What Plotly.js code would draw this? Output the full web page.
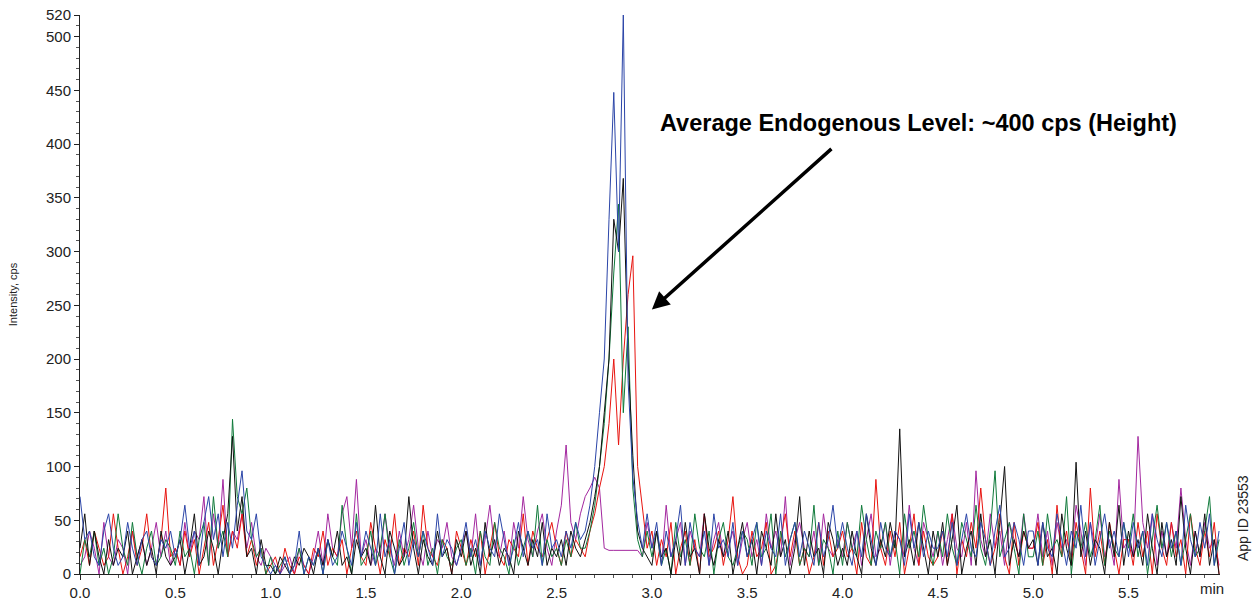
<!DOCTYPE html>
<html>
<head>
<meta charset="utf-8">
<script src="https://cdn.plot.ly/plotly-3.0.1.min.js"></script>
<style>body{margin:0;background:#fff}</style>
</head>
<body>
<div id="my_plot" style="width:1256px;height:601px"></div>
<script>
// sampling step 0.025 min, 240 points per trace (0.0 .. 5.975)
var step = 0.025;
var times = [];
for (var i = 0; i < 240; i++) times.push(+(i * step).toFixed(3));

var black = [
 24,56,8,40,16,0,32,8,24,16,40,0,16,32,8,24,0,40,16,8,
 16,32,0,24,56,8,16,40,24,0,32,56,128,40,72,16,24,0,32,8,
 8,0,16,8,0,16,8,24,16,0,24,8,32,16,40,8,16,0,32,16,
 24,8,64,16,0,40,24,8,16,72,24,0,32,16,8,40,16,24,0,32,
 16,40,8,24,0,48,16,32,8,24,16,0,40,24,8,32,16,48,8,24,
 16,32,8,40,24,16,32,48,72,100,150,200,330,300,368,200,110,40,24,16,
 8,40,16,24,0,32,8,48,16,24,0,56,24,8,32,16,40,0,24,48,
 16,32,0,40,24,8,56,16,32,0,24,72,8,40,16,24,0,48,32,8,
 24,8,40,16,0,56,24,8,32,16,48,24,135,16,32,8,48,24,0,40,
 16,48,8,32,64,0,24,40,8,56,16,32,0,48,100,8,32,16,40,24,
 32,8,48,16,24,0,56,24,8,104,16,40,8,32,24,0,48,16,64,8,
 40,16,32,8,56,24,0,48,16,32,8,72,24,0,40,16,56,8,32,0];
var red = [
 16,32,8,40,24,8,16,56,24,0,16,40,8,24,56,16,8,32,80,16,
 24,8,40,16,32,0,24,48,8,32,64,16,40,24,56,16,32,8,24,0,
 8,16,0,24,8,0,16,8,0,24,16,40,8,24,16,32,0,24,40,16,
 8,48,24,0,32,16,56,8,24,16,40,8,64,24,16,8,32,24,0,40,
 24,8,32,16,40,0,24,48,16,8,32,24,16,56,8,40,24,16,32,48,
 24,8,40,16,32,24,16,40,56,80,100,140,200,120,200,260,296,100,60,24,
 40,8,32,16,48,0,24,40,8,32,0,56,16,24,40,8,32,72,16,0,
 8,40,16,24,48,0,8,32,56,16,40,8,24,0,16,48,8,40,16,24,
 40,16,24,0,48,16,8,88,24,8,40,16,48,0,24,56,8,40,16,8,
 16,40,8,56,0,32,16,48,24,80,32,8,24,56,16,0,48,8,40,24,
 24,48,8,32,0,64,16,40,8,48,24,0,80,16,40,8,48,24,0,32,
 32,8,48,16,40,0,56,24,8,48,16,32,0,56,24,8,40,16,48,0];
var green = [
 0,32,16,40,8,24,0,16,56,24,8,48,16,0,24,40,8,16,32,24,
 8,40,16,24,0,32,48,8,72,24,40,16,144,72,56,80,32,16,24,0,
 16,0,8,16,0,8,24,0,16,8,24,0,32,16,8,64,24,0,56,8,
 16,40,8,24,56,16,0,32,8,24,48,16,40,8,24,0,32,16,8,24,
 32,8,24,0,40,16,8,48,24,16,0,32,8,24,40,16,64,8,32,16,
 24,8,32,16,48,24,24,40,64,100,140,200,280,344,150,230,80,32,16,40,
 16,40,8,24,0,48,16,32,8,56,24,16,40,0,32,48,16,8,24,40,
 32,8,48,16,24,56,0,40,16,32,48,8,24,16,64,8,32,24,0,40,
 8,48,24,16,64,32,8,40,24,48,16,32,0,56,24,40,16,64,32,8,
 40,16,56,24,8,48,32,16,64,24,8,40,96,16,32,48,24,0,56,16,
 16,40,8,56,24,32,16,72,0,40,24,48,16,32,64,8,40,24,16,48,
 24,56,16,40,0,32,64,24,48,16,40,8,32,56,16,24,40,72,8,32];
var blue = [
 72,32,40,16,8,40,56,24,8,16,48,24,8,32,40,16,8,32,24,40,
 16,32,64,24,40,8,48,72,32,56,16,48,24,64,96,40,32,56,16,8,
 0,8,0,16,0,8,40,0,16,8,24,0,32,8,16,40,24,8,48,16,
 40,24,8,56,16,32,0,24,48,8,32,16,40,24,8,56,16,32,24,8,
 24,48,16,32,8,40,24,16,56,32,8,24,48,16,40,24,32,8,56,24,
 32,16,40,24,48,32,40,64,100,150,200,330,448,300,520,180,90,50,24,56,
 24,48,8,40,16,32,64,8,48,24,16,40,8,56,24,32,16,48,8,40,
 16,32,48,8,40,24,16,56,8,32,48,16,40,24,8,48,16,32,64,24,
 48,24,8,40,16,56,32,8,48,24,16,40,32,8,56,24,48,16,40,24,
 24,40,16,48,8,32,56,24,16,48,32,8,40,64,16,24,48,32,8,40,
 40,8,48,24,16,56,32,8,40,24,64,16,48,8,32,56,24,40,16,48,
 16,48,24,40,8,56,32,16,48,24,40,8,64,32,16,48,24,56,8,40];
var magenta = [
 8,16,40,24,0,48,16,8,32,24,0,40,16,32,8,24,48,16,40,8,
 24,8,48,16,40,32,72,8,56,24,88,16,40,32,56,24,48,16,8,24,
 16,8,0,8,16,0,24,8,0,16,40,8,56,24,16,56,72,24,88,16,
 32,8,24,16,56,24,8,40,16,32,64,24,8,40,16,32,24,48,16,8,
 24,40,16,56,8,32,64,24,16,40,8,48,24,72,32,16,40,56,24,8,
 40,64,120,48,32,56,72,80,90,80,24,22,22,22,22,22,22,22,16,48,
 24,40,8,64,16,32,48,8,40,24,16,56,8,32,48,16,24,40,8,32,
 48,16,32,8,56,24,40,16,72,8,32,48,24,16,40,8,56,24,16,32,
 16,48,24,40,8,32,56,16,24,48,8,40,32,16,64,24,8,48,32,16,
 40,8,32,56,24,16,48,8,96,32,16,56,24,40,8,48,32,16,56,24,
 24,56,16,40,8,48,24,32,16,64,40,8,48,24,56,16,32,8,88,24,
 32,16,128,48,24,56,8,40,16,48,24,80,32,8,40,16,48,24,32,8];

var xtickvals = [0, 0.5, 1, 1.5, 2, 2.5, 3, 3.5, 4, 4.5, 5, 5.5];
var xticktext = ["0.0","0.5","1.0","1.5","2.0","2.5","3.0","3.5","4.0","4.5","5.0","5.5"];
var ytickvals = [0, 50, 100, 150, 200, 250, 300, 350, 400, 450, 500, 520];

var series = [
  {y: magenta, color: "#a3279f"},
  {y: red, color: "#e8140f"},
  {y: green, color: "#0f7a3a"},
  {y: black, color: "#111111"},
  {y: blue, color: "#2b45a8"}
];
var data = series.map(function (s) {
  return {x: times, y: s.y, type: "scatter", mode: "lines",
          line: {color: s.color, width: 1}, hoverinfo: "skip"};
});

var layout = {
  width: 1256, height: 601,
  margin: {l: 80, r: 36, t: 15, b: 27},
  showlegend: false,
  paper_bgcolor: "#fff", plot_bgcolor: "#fff",
  font: {family: "Liberation Sans, Arial, sans-serif", size: 15, color: "#222"},
  xaxis: {
    range: [0, 5.98], showgrid: false, zeroline: false,
    showline: true, linecolor: "#222", linewidth: 1,
    ticks: "outside", ticklen: 5, tickcolor: "#222",
    tickvals: xtickvals, ticktext: xticktext,
    minor: {dtick: 0.1, ticks: "outside", ticklen: 3, tickcolor: "#555"}
  },
  yaxis: {
    range: [0, 520], showgrid: false, zeroline: false,
    showline: true, linecolor: "#222", linewidth: 1,
    ticks: "outside", ticklen: 5, tickcolor: "#222",
    tickvals: ytickvals,
    minor: {dtick: 10, ticks: "outside", ticklen: 3, tickcolor: "#555"},
    title: {text: "Intensity, cps", font: {size: 11, family: "Liberation Sans Narrow, Arial, sans-serif"}, standoff: 26}
  },
  annotations: [
    {x: 3.0, y: 246, xref: "x", yref: "y", ax: 181, ay: -162,
     showarrow: true, arrowhead: 2, arrowsize: 1, arrowwidth: 3.5, arrowcolor: "#000",
     text: ""},
    {x: 918, y: 123, text: "<b>Average Endogenous Level: ~400 cps (Height)</b>",
     showarrow: false, font: {size: 23.5, color: "#000"}},
    {x: 1212, y: 588, text: "min", showarrow: false, font: {size: 15, color: "#222"}},
    {x: 1243, y: 518, text: "App ID 23553", textangle: -90, showarrow: false, font: {size: 14, color: "#222"}}
  ]
};
// convert pixel-placed annotations to paper coords
var pw = 1256 - 80 - 36, ph = 601 - 15 - 27;
layout.annotations.forEach(function (a, k) {
  if (k === 0) return;
  a.xref = "paper"; a.yref = "paper";
  a.xanchor = "center"; a.yanchor = "middle";
  a.x = (a.x - 80) / pw; a.y = (601 - 27 - a.y) / ph;
});

Plotly.newPlot("my_plot", data, layout, {staticPlot: true});
</script>
</body>
</html>
